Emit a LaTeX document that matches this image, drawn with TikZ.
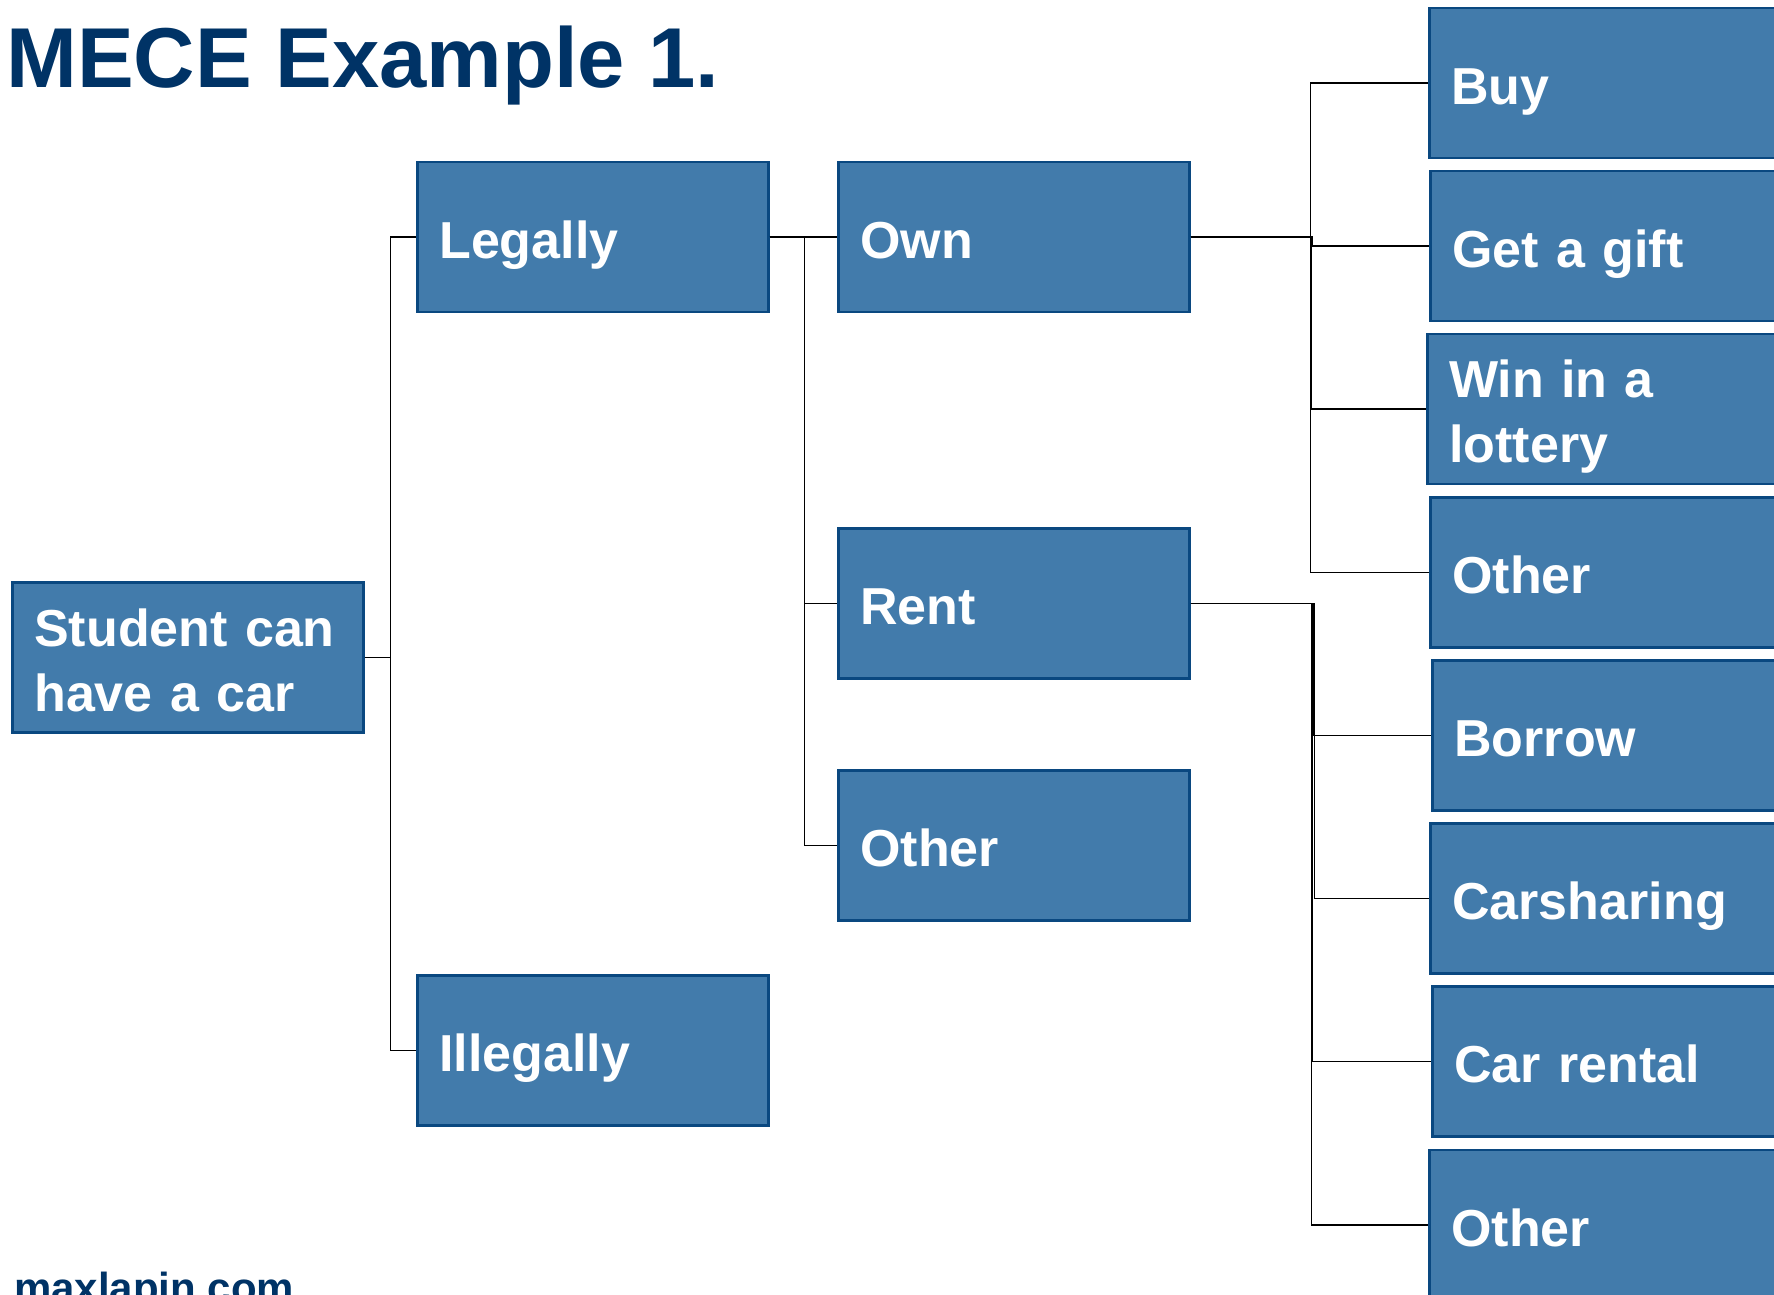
\documentclass[tikz,border=0pt]{standalone}
\usepackage{fontspec}
\setmainfont{Liberation Sans}
\definecolor{boxfill}{RGB}{66,123,171}
\definecolor{boxline}{RGB}{10,72,128}
\definecolor{navy}{RGB}{0,51,102}
\begin{document}
\begin{tikzpicture}[x=1pt,y=1pt,
  mbox/.style={draw=boxline, line width=2.5pt, fill=boxfill, text=white,
    font=\bfseries\fontsize{52}{65}\selectfont,
    minimum width=351pt, minimum height=150pt, inner xsep=22pt, inner ysep=0pt,
    text width=307pt, align=left, anchor=west, text height=43pt, text depth=0pt},
  twoline/.style={text depth=65pt},
  conn/.style={draw=black, line width=1.6pt},
  heading/.style={text=navy, inner sep=0pt, anchor=base west}]
\useasboundingbox (0,0) rectangle (1774,1295);

\node[heading, font=\bfseries\fontsize{85}{100}\selectfont] (title) at (6,1207) {MECE Example 1.};
\node[heading, font=\bfseries\fontsize{42}{50}\selectfont] (site) at (14,-8) {maxlapin.com};

\node[mbox, twoline] (student) at (11,637.5) {Student can\\have a car};
\node[mbox] (legally) at (416,1058) {Legally};
\node[mbox] (illegally) at (416,244.5) {Illegally};
\node[mbox] (own) at (837,1058) {Own};
\node[mbox] (rent) at (837,691.5) {Rent};
\node[mbox] (other1) at (837,449.5) {Other};
\node[mbox] (buy) at (1428,1212) {Buy};
\node[mbox] (gift) at (1429,1049) {Get a gift};
\node[mbox, twoline] (win) at (1426,886) {Win in a\\lottery};
\node[mbox] (other2) at (1429,722.5) {Other};
\node[mbox] (borrow) at (1431,559.5) {Borrow};
\node[mbox] (carsharing) at (1429,396.5) {Carsharing};
\node[mbox] (carrental) at (1431,233.5) {Car rental};
\node[mbox] (other3) at (1428,70) {Other};

\draw[conn] (student.east) -- ++(26,0) |- (legally.west);
\draw[conn] (student.east) -- ++(26,0) |- (illegally.west);

\draw[conn] (legally.east) -- ++(35,0) |- (own.west);
\draw[conn] (legally.east) -- ++(35,0) |- (rent.west);
\draw[conn] (legally.east) -- ++(35,0) |- (other1.west);

\draw[conn] (own.east) -- ++(120,0) |- (buy.west);
\draw[conn] (own.east) -- ++(122,0) |- (gift.west);
\draw[conn] (own.east) -- ++(121,0) |- (win.west);
\draw[conn] (own.east) -- ++(120,0) |- (other2.west);

\draw[conn] (rent.east) -- ++(123,0) |- (borrow.west);
\draw[conn] (rent.east) -- ++(124,0) |- (carsharing.west);
\draw[conn] (rent.east) -- ++(122,0) |- (carrental.west);
\draw[conn] (rent.east) -- ++(121,0) |- (other3.west);
\end{tikzpicture}
\end{document}
